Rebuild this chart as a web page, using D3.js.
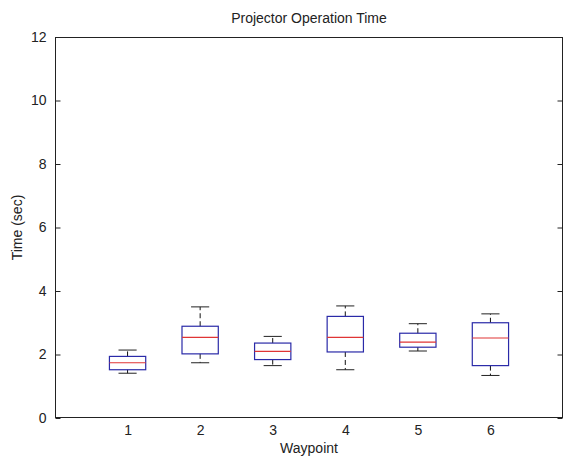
<!DOCTYPE html>
<html>
<head>
<meta charset="utf-8">
<script src="https://cdn.jsdelivr.net/npm/d3@7"></script>
<style>
  body { margin: 0; background: #fff; }
  text { font-family: "Liberation Sans", Arial, sans-serif; fill: #222; }
</style>
</head>
<body>
<svg id="chart"></svg>
<script>
// values
let waypoints = [1, 2, 3, 4, 5, 6];
let lowWhisker = [1.41, 1.74, 1.65, 1.52, 2.11, 1.34];
let q1 = [1.52, 2.02, 1.84, 2.08, 2.23, 1.65];
let medians = [1.74, 2.54, 2.10, 2.54, 2.39, 2.52];
let q3 = [1.94, 2.89, 2.36, 3.20, 2.67, 3.00];
let highWhisker = [2.14, 3.50, 2.57, 3.53, 2.97, 3.28];
let yTicks = [0, 2, 4, 6, 8, 10, 12];

let width = 564, height = 459;
let plotLeft = 55, plotRight = 563, plotTop = 37, plotBottom = 418;

let svg = d3.select('#chart')
  .attr('width', width)
  .attr('height', height);

let xScale = d3.scaleLinear().domain([0, 7]).range([plotLeft, plotRight]);
let yScale = d3.scaleLinear().domain([0, 12]).range([plotBottom, plotTop]);

let boxes = waypoints.map(function(w, i) {
  return {w: w, lo: lowWhisker[i], q1: q1[i], med: medians[i], q3: q3[i], hi: highWhisker[i]};
});

// frame
svg.append('rect')
  .attr('x', plotLeft + 0.5).attr('y', plotTop + 0.5)
  .attr('width', plotRight - plotLeft - 1).attr('height', plotBottom - plotTop - 1)
  .attr('fill', 'none').attr('stroke', '#222').attr('stroke-width', 1);

// y ticks, pointing inward on both sides
let yAxis = d3.axisLeft(yScale).tickValues(yTicks).tickFormat(d3.format('d')).tickSize(-5).tickPadding(9);
let gy = svg.append('g').attr('transform', 'translate(' + (plotLeft + 0.5) + ',0)').call(yAxis);
gy.select('.domain').remove();
gy.selectAll('line').attr('stroke', '#222');
gy.selectAll('text').style('font-size', '14px').attr('fill', '#222');

let yRight = d3.axisRight(yScale).tickValues(yTicks).tickSize(-5).tickFormat('');
let gr = svg.append('g').attr('transform', 'translate(' + (plotRight - 0.5) + ',0)').call(yRight);
gr.select('.domain').remove();
gr.selectAll('line').attr('stroke', '#222');

// x labels
let xAxis = d3.axisBottom(xScale).tickValues(waypoints).tickFormat(d3.format('d')).tickSize(0).tickPadding(7);
let gx = svg.append('g').attr('transform', 'translate(0,' + plotBottom + ')').call(xAxis);
gx.select('.domain').remove();
gx.selectAll('text').style('font-size', '14px').attr('fill', '#222');

let half = 0.25, capHalf = 0.125;

let g = svg.selectAll('.box').data(boxes).enter().append('g').attr('class', 'box');

// whiskers (dashed)
g.append('line')
  .attr('x1', d => xScale(d.w)).attr('x2', d => xScale(d.w))
  .attr('y1', d => yScale(d.q3)).attr('y2', d => yScale(d.hi))
  .attr('stroke', '#111').attr('stroke-dasharray', '5,3');
g.append('line')
  .attr('x1', d => xScale(d.w)).attr('x2', d => xScale(d.w))
  .attr('y1', d => yScale(d.q1)).attr('y2', d => yScale(d.lo))
  .attr('stroke', '#111').attr('stroke-dasharray', '5,3');

// caps
g.append('line')
  .attr('x1', d => xScale(d.w - capHalf)).attr('x2', d => xScale(d.w + capHalf))
  .attr('y1', d => yScale(d.hi)).attr('y2', d => yScale(d.hi))
  .attr('stroke', '#222');
g.append('line')
  .attr('x1', d => xScale(d.w - capHalf)).attr('x2', d => xScale(d.w + capHalf))
  .attr('y1', d => yScale(d.lo)).attr('y2', d => yScale(d.lo))
  .attr('stroke', '#222');

// box
g.append('rect')
  .attr('x', d => xScale(d.w - half)).attr('width', d => xScale(d.w + half) - xScale(d.w - half))
  .attr('y', d => yScale(d.q3)).attr('height', d => yScale(d.q1) - yScale(d.q3))
  .attr('fill', 'none').attr('stroke', '#2a2aa8').attr('stroke-width', 1.2);

// median
g.append('line')
  .attr('x1', d => xScale(d.w - half)).attr('x2', d => xScale(d.w + half))
  .attr('y1', d => yScale(d.med)).attr('y2', d => yScale(d.med))
  .attr('stroke', '#e03535').attr('stroke-width', 1.2);

// titles
svg.append('text')
  .attr('x', (plotLeft + plotRight) / 2).attr('y', 23)
  .attr('text-anchor', 'middle').style('font-size', '14px')
  .text('Projector Operation Time');

svg.append('text')
  .attr('x', (plotLeft + plotRight) / 2).attr('y', 453)
  .attr('text-anchor', 'middle').style('font-size', '14px')
  .text('Waypoint');

svg.append('text')
  .attr('transform', 'translate(22,' + ((plotTop + plotBottom) / 2) + ') rotate(-90)')
  .attr('text-anchor', 'middle').style('font-size', '14px')
  .text('Time (sec)');
</script>
</body>
</html>
